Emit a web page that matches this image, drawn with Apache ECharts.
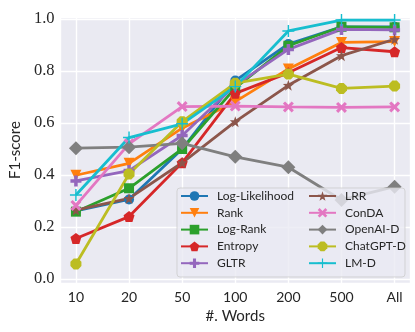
<!DOCTYPE html>
<html>
<head>
<meta charset="utf-8">
<script src="https://cdn.jsdelivr.net/npm/echarts@6/dist/echarts.min.js"></script>
<style>
  html, body { margin: 0; padding: 0; background: #fff; }
  #main { width: 415px; height: 332px; }
</style>
</head>
<body>
<div id="main"></div>
<script>
var categories = ['10', '20', '50', '100', '200', '500', 'All']
var yTicks = [0, 0.2, 0.4, 0.6, 0.8, 1.0]

var names = ['Log-Likelihood', 'Rank', 'Log-Rank', 'Entropy', 'GLTR',
  'LRR', 'ConDA', 'OpenAI-D', 'ChatGPT-D', 'LM-D']

var logLikelihood = [0.262, 0.306, 0.500, 0.763, 0.904, 0.970, 0.970]
var rank = [0.399, 0.445, 0.580, 0.682, 0.808, 0.910, 0.913]
var logRank = [0.259, 0.349, 0.500, 0.735, 0.897, 0.970, 0.968]
var entropy = [0.156, 0.240, 0.447, 0.714, 0.793, 0.890, 0.874]
var gltr = [0.377, 0.417, 0.552, 0.745, 0.883, 0.960, 0.958]
var lrr = [0.265, 0.310, 0.447, 0.605, 0.745, 0.859, 0.922]
var conda = [0.283, 0.520, 0.663, 0.665, 0.662, 0.660, 0.662]
var openaiD = [0.503, 0.507, 0.522, 0.470, 0.430, 0.304, 0.355]
var chatgptD = [0.058, 0.404, 0.605, 0.753, 0.788, 0.733, 0.742]
var lmD = [0.323, 0.544, 0.597, 0.740, 0.954, 0.996, 0.996]

var allValues = [logLikelihood, rank, logRank, entropy, gltr, lrr, conda, openaiD, chatgptD, lmD]
var colors = ['#1f77b4', '#ff7f0e', '#2ca02c', '#d62728', '#9467bd',
  '#8c564b', '#e377c2', '#7f7f7f', '#bcbd22', '#17becf']
var symbols = [
  'circle',
  'path://M0,0 L10,0 L5,9 Z',
  'rect',
  'path://M5,0 L10,3.6 L8.1,9.5 L1.9,9.5 L0,3.6 Z',
  'path://M3.4,0 H6.6 V3.4 H10 V6.6 H6.6 V10 H3.4 V6.6 H0 V3.4 H3.4 Z',
  'path://M5,0 L6.2,3.5 L10,3.6 L7,5.9 L8.1,9.5 L5,7.4 L1.9,9.5 L3,5.9 L0,3.6 L3.8,3.5 Z',
  'path://M0,2 L2,0 L5,3 L8,0 L10,2 L7,5 L10,8 L8,10 L5,7 L2,10 L0,8 L3,5 Z',
  'diamond',
  'path://M3,0 H7 L10,3 V7 L7,10 H3 L0,7 V3 Z',
  'path://M4.4,0 H5.6 V4.4 H10 V5.6 H5.6 V10 H4.4 V5.6 H0 V4.4 H4.4 Z'
]
var sizes = [10, 11, 10, 11, 11, 11, 11, 14, 11, 12]

var chart = echarts.init(document.getElementById('main'))

var series = names.map(function (name, k) {
  return {
    name: name,
    type: 'line',
    data: allValues[k].map(function (v, i) { return [i, v] }),
    symbol: symbols[k],
    symbolSize: sizes[k],
    showAllSymbol: true,
    color: colors[k],
    lineStyle: { width: 2.8, color: colors[k] },
    itemStyle: { color: colors[k] }
  }
})

var legendText = { fontFamily: 'Lato', fontSize: 12, color: '#262626', padding: [0, 0, 0, 4] }

var option = {
  animation: false,
  backgroundColor: '#ffffff',
  grid: {
    left: 50, right: 5, top: 17, bottom: 49,
    show: true, backgroundColor: '#eaeaf2', borderWidth: 0
  },
  xAxis: {
    type: 'value',
    min: -0.29,
    max: 6.29,
    splitNumber: 6,
    axisLine: { show: false },
    axisTick: { show: false },
    splitLine: { lineStyle: { color: '#ffffff', width: 1.4 } },
    axisLabel: {
      margin: 7,
      fontFamily: 'Lato', fontSize: 14, color: '#262626',
      formatter: function (v) {
        var r = Math.round(v)
        return Math.abs(v - r) < 1e-6 && categories[r] !== undefined ? categories[r] : ''
      }
    },
    name: '#. Words',
    nameLocation: 'middle',
    nameGap: 22,
    nameTextStyle: { fontFamily: 'Lato', fontSize: 15, color: '#262626' }
  },
  yAxis: {
    type: 'value',
    min: -0.0154,
    max: 1.0077,
    splitNumber: 5,
    axisLine: { show: false },
    axisTick: { show: false },
    splitLine: { lineStyle: { color: '#ffffff', width: 1.4 } },
    axisLabel: {
      margin: 6,
      fontFamily: 'Liberation Serif', fontSize: 16.5, color: '#262626',
      formatter: function (v) {
        for (var i = 0; i < yTicks.length; i++) {
          if (Math.abs(v - yTicks[i]) < 1e-6) return yTicks[i].toFixed(1)
        }
        return ''
      }
    },
    name: 'F1-score',
    nameLocation: 'middle',
    nameGap: 31,
    nameTextStyle: { fontFamily: 'Lato', fontSize: 15, color: '#262626' }
  },
  legend: [
    {
      data: names.slice(0, 5),
      orient: 'vertical',
      left: 180, top: 190,
      padding: 0,
      itemWidth: 27, itemHeight: 12, itemGap: 4.8,
      z: 12,
      textStyle: legendText
    },
    {
      data: names.slice(5),
      orient: 'vertical',
      left: 308, top: 190,
      padding: 0,
      itemWidth: 27, itemHeight: 12, itemGap: 4.8,
      z: 12,
      textStyle: legendText
    }
  ],
  graphic: [
    {
      type: 'rect',
      z: 10,
      shape: { x: 177, y: 188, width: 228, height: 89, r: 3 },
      style: { fill: 'rgba(234,234,242,0.8)', stroke: 'rgba(204,204,204,0.8)', lineWidth: 1 }
    }
  ],
  series: series
}

chart.setOption(option)
</script>
</body>
</html>
